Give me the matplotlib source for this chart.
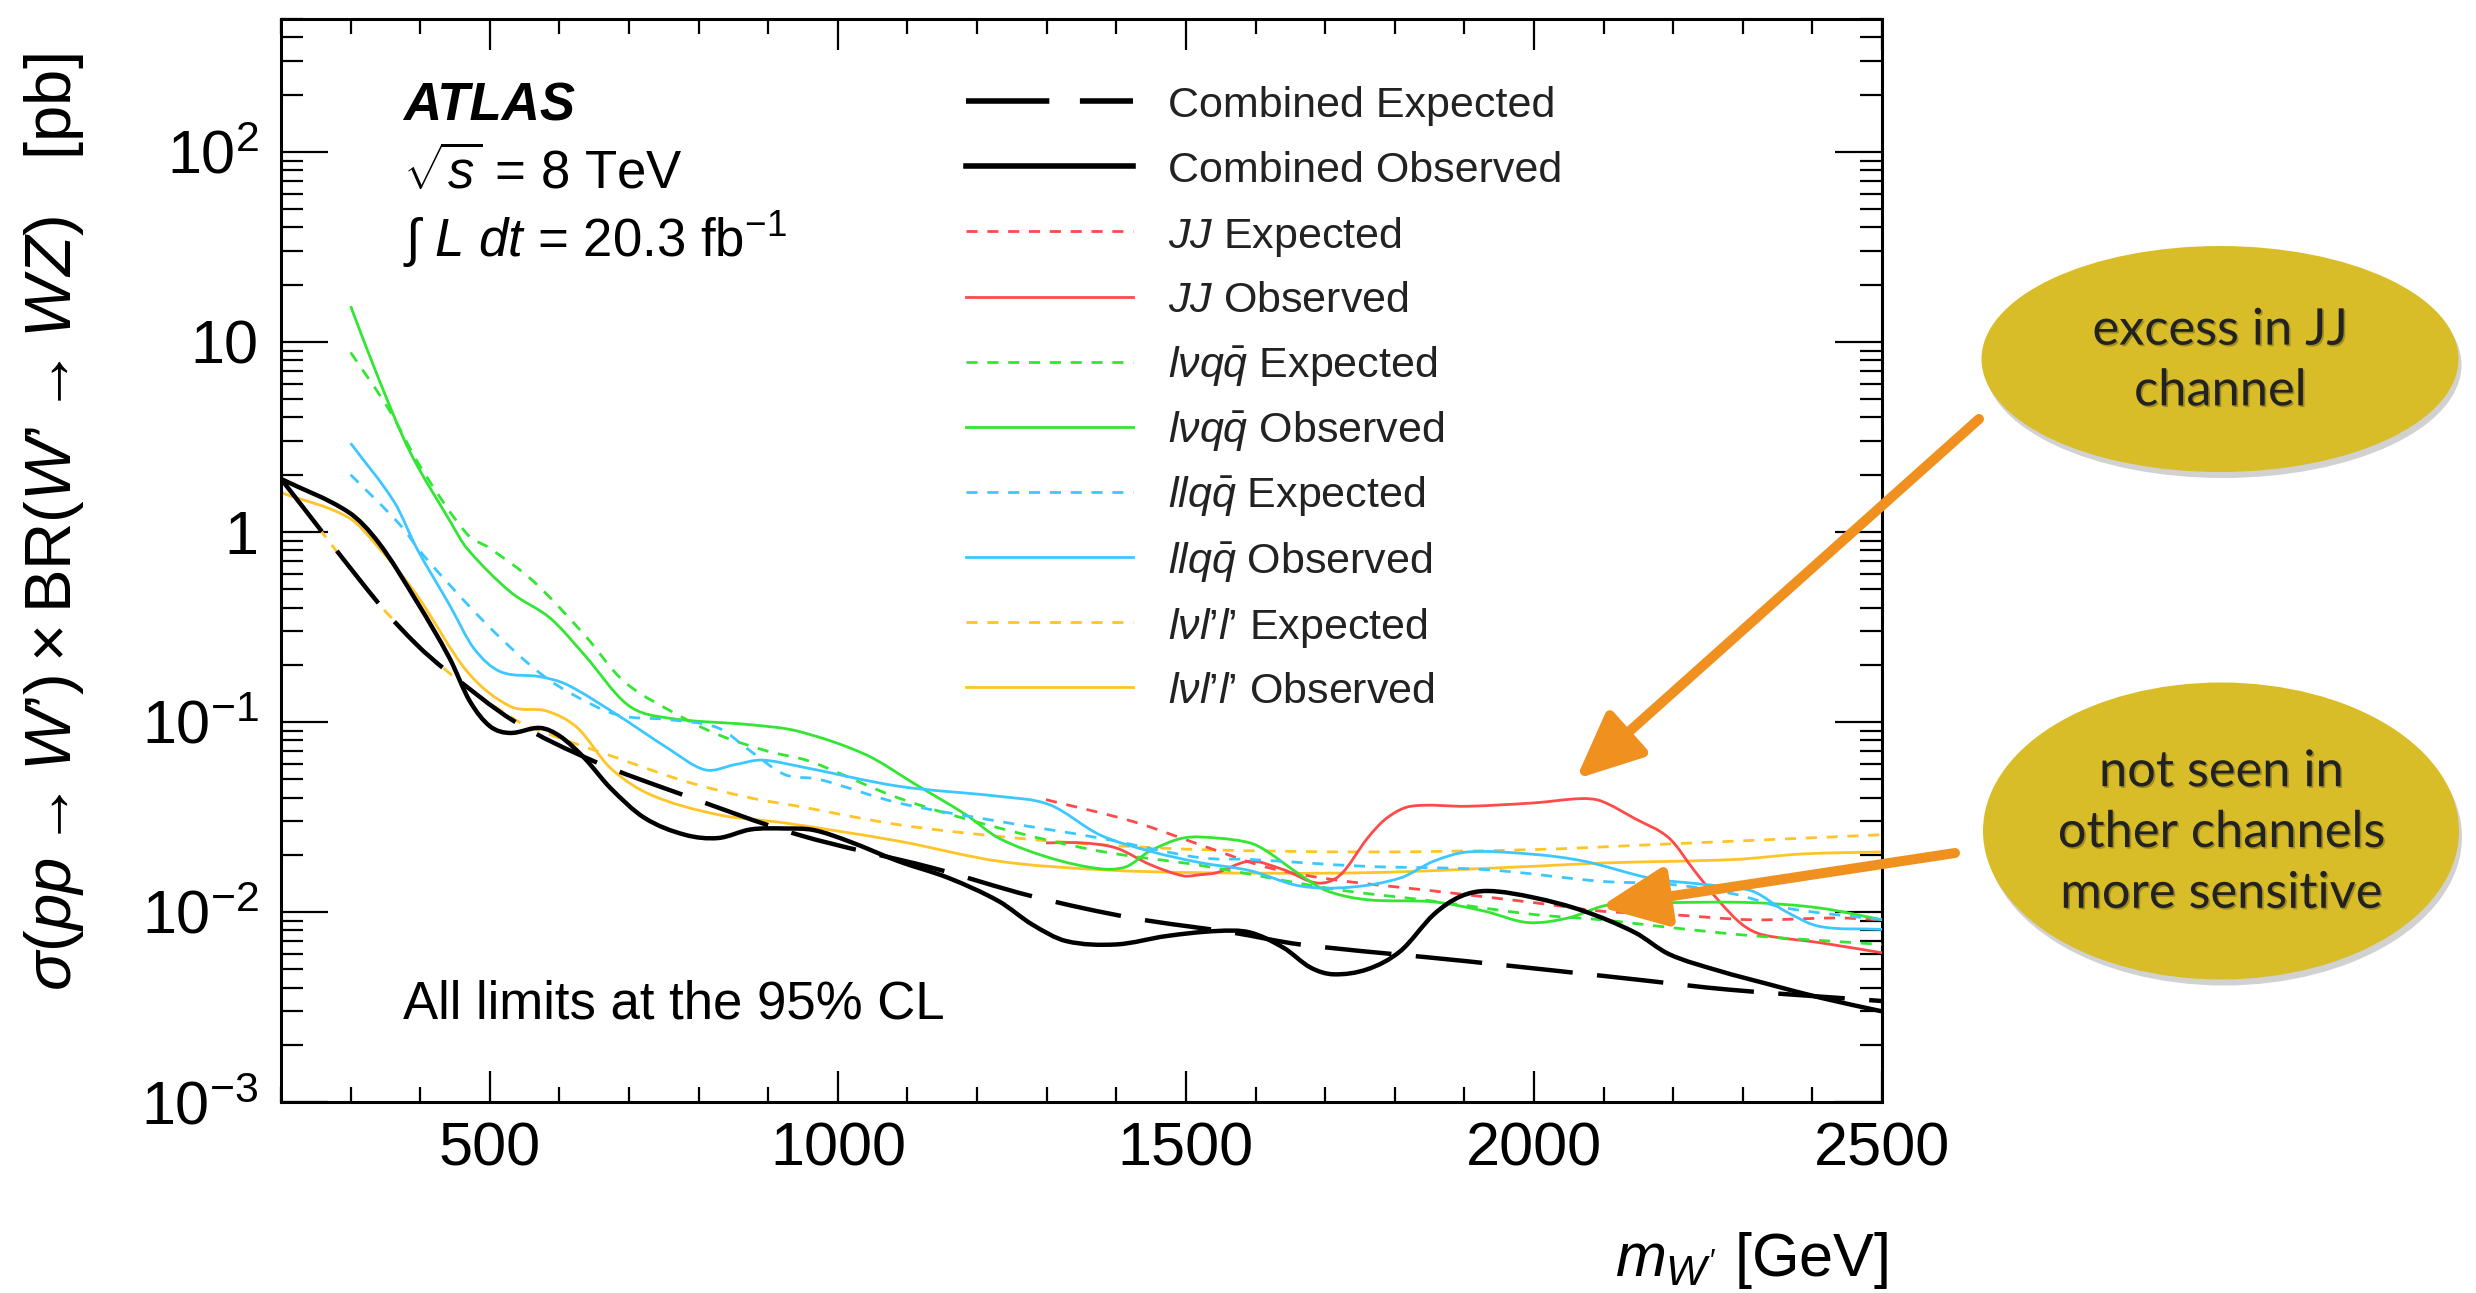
import matplotlib
matplotlib.use('Agg')
import numpy as np
import matplotlib.pyplot as plt
import matplotlib.patheffects as pe
from matplotlib.patches import Ellipse, PathPatch
from matplotlib.path import Path
from matplotlib.ticker import MultipleLocator, LogLocator, NullFormatter

plt.rcParams['font.family'] = ['Liberation Sans', 'DejaVu Sans']
plt.rcParams['mathtext.fontset'] = 'custom'
plt.rcParams['mathtext.rm'] = 'Liberation Sans'
plt.rcParams['mathtext.it'] = 'Liberation Sans:italic'
plt.rcParams['mathtext.bf'] = 'Liberation Sans:bold'

# --- 95% CL limits: W' mass [GeV] -> sigma x BR [pb] ---
comb_obs_m = [200, 297, 341, 395, 442, 471, 500, 529, 572, 601, 636, 673, 722, 780, 828,
              875, 924, 965, 1015, 1087, 1159, 1231, 1279, 1328, 1400, 1472, 1544, 1592,
              1640, 1679, 1712, 1761, 1808, 1856, 1895, 1934, 2000, 2072, 2145, 2194,
              2266, 2338, 2410, 2500]
comb_obs = [1.9, 1.27, 0.87, 0.43, 0.217, 0.129, 0.095, 0.0875, 0.093, 0.084, 0.0645,
            0.045, 0.0313, 0.0255, 0.0245, 0.0272, 0.0275, 0.027, 0.0236, 0.0185, 0.0151,
            0.0114, 0.0086, 0.00703, 0.00675, 0.00747, 0.00794, 0.0078, 0.00649, 0.0051,
            0.0047, 0.0050, 0.00622, 0.0097, 0.0121, 0.0129, 0.0119, 0.0101, 0.0078,
            0.0060, 0.0049, 0.00416, 0.00355, 0.0030]

comb_exp_m = [200, 341, 395, 437, 535, 650, 770, 943, 1135, 1279, 1423, 1568, 1664, 1905,
              2145, 2281, 2500]
comb_exp = [1.9, 0.417, 0.255, 0.187, 0.1008, 0.062, 0.0423, 0.0255, 0.0171, 0.0121,
            0.0093, 0.00778, 0.00675, 0.0055, 0.00442, 0.0039, 0.0034]

jj_obs_m = [1299, 1351, 1400, 1448, 1496, 1520, 1544, 1592, 1640, 1689, 1722, 1761, 1789,
            1823, 1905, 2000, 2068, 2097, 2145, 2194, 2231, 2266, 2299, 2328, 2410, 2500]
jj_obs = [0.0231, 0.0231, 0.0217, 0.0178, 0.0155, 0.0157, 0.0161, 0.0185, 0.0167, 0.0142,
          0.0157, 0.0245, 0.0313, 0.036, 0.036, 0.0375, 0.0395, 0.0383, 0.031, 0.0245,
          0.0164, 0.0114, 0.0086, 0.0076, 0.0069, 0.0061]

jj_exp_m = [1299, 1423, 1520, 1616, 1712, 1856, 2000, 2097, 2194, 2313, 2434, 2500]
jj_exp = [0.039, 0.030, 0.0226, 0.0172, 0.0148, 0.0129, 0.0112, 0.0101, 0.0097, 0.0091,
          0.0093, 0.0091]

lvqq_obs_m = [300, 341, 385, 444, 467, 529, 587, 636, 698, 755, 875, 943, 1040, 1112, 1184,
              1231, 1304, 1376, 1414, 1448, 1496, 1544, 1592, 1616, 1664, 1703, 1761, 1856,
              1929, 1991, 2049, 2097, 2121, 2194, 2313, 2410, 2500]
lvqq_obs = [15.4, 6.3, 2.65, 1.12, 0.82, 0.485, 0.351, 0.225, 0.123, 0.105, 0.0966, 0.0893,
            0.0673, 0.0468, 0.0325, 0.0245, 0.0193, 0.0169, 0.0173, 0.0209, 0.0245, 0.0245,
            0.0231, 0.0209, 0.0157, 0.0129, 0.0116, 0.0113, 0.0101, 0.0088, 0.0093, 0.0107,
            0.011, 0.0112, 0.0112, 0.0105, 0.0091]

lvqq_exp_m = [300, 356, 400, 466, 500, 563, 636, 693, 770, 828, 900, 960, 1087, 1231, 1376,
              1520, 1712, 1856, 2000, 2097, 2194, 2313, 2500]
lvqq_exp = [8.8, 4.35, 2.21, 0.986, 0.82, 0.548, 0.287, 0.163, 0.109, 0.0857, 0.070, 0.062,
            0.0398, 0.0277, 0.0209, 0.0176, 0.0132, 0.0114, 0.0097, 0.0091, 0.0083, 0.0075,
            0.00675]

llqq_obs_m = [300, 363, 395, 442, 477, 515, 572, 611, 683, 755, 809, 852, 890, 943, 1087,
              1231, 1304, 1376, 1448, 1520, 1592, 1664, 1736, 1808, 1856, 1905, 2000, 2072,
              2169, 2241, 2313, 2361, 2410, 2500]
llqq_obs = [2.93, 1.43, 0.82, 0.413, 0.244, 0.184, 0.173, 0.157, 0.109, 0.073, 0.056,
            0.0596, 0.063, 0.0585, 0.0459, 0.0406, 0.0367, 0.0255, 0.0209, 0.0182, 0.0165,
            0.0137, 0.0135, 0.0151, 0.0185, 0.0207, 0.0201, 0.0185, 0.015, 0.014, 0.0129,
            0.0101, 0.0084, 0.0081]

llqq_exp_m = [300, 370, 405, 491, 563, 611, 683, 755, 828, 875, 924, 972, 1087, 1231, 1376,
              1520, 1592, 1756, 1931, 2097, 2194, 2289, 2361, 2500]
llqq_exp = [2.0, 1.1, 0.75, 0.339, 0.192, 0.145, 0.109, 0.103, 0.093, 0.070, 0.0528, 0.050,
            0.0375, 0.030, 0.0245, 0.0193, 0.0189, 0.0174, 0.0167, 0.0145, 0.014, 0.0124,
            0.0105, 0.0091]

lvll_obs_m = [200, 297, 341, 395, 467, 529, 582, 626, 673, 731, 828, 924, 1087, 1231, 1376,
              1520, 1761, 2000, 2097, 2289, 2385, 2500]
lvll_obs = [1.61, 1.19, 0.82, 0.466, 0.185, 0.121, 0.114, 0.093, 0.0573, 0.0414, 0.0325,
            0.0294, 0.0236, 0.0185, 0.0167, 0.0161, 0.0161, 0.0174, 0.0181, 0.0189, 0.0202,
            0.0207]

lvll_exp_m = [200, 341, 437, 535, 587, 683, 780, 875, 943, 1087, 1231, 1376, 1520, 1761,
              2000, 2169, 2289, 2500]
lvll_exp = [1.9, 0.417, 0.187, 0.1035, 0.0857, 0.0646, 0.0488, 0.0398, 0.036, 0.0288,
            0.025, 0.0226, 0.0213, 0.0207, 0.0213, 0.0226, 0.0236, 0.0255]

legend_labels = ['Combined Expected', 'Combined Observed',
                 r'$JJ$ Expected', r'$JJ$ Observed',
                 r'$l\nu q\bar{q}$ Expected', r'$l\nu q\bar{q}$ Observed',
                 r'$llq\bar{q}$ Expected', r'$llq\bar{q}$ Observed',
                 r'$l\nu l$’$l$’ Expected', r'$l\nu l$’$l$’ Observed']

red, green, blue, yellow = '#FF4A4A', '#33E633', '#3CC8FF', '#FFC425'
dash_black = (0, (15, 5.5))
dash_col = (0, (4, 3.5))

# (x, y, colour, linestyle, width, zorder) in legend order
series = [
    (comb_exp_m, comb_exp, 'black', dash_black, 1.6, 6),
    (comb_obs_m, comb_obs, 'black', '-', 1.6, 7),
    (jj_exp_m, jj_exp, red, dash_col, 1.0, 3),
    (jj_obs_m, jj_obs, red, '-', 1.0, 3),
    (lvqq_exp_m, lvqq_exp, green, dash_col, 1.0, 3),
    (lvqq_obs_m, lvqq_obs, green, '-', 1.0, 3),
    (llqq_exp_m, llqq_exp, blue, dash_col, 1.0, 3),
    (llqq_obs_m, llqq_obs, blue, '-', 1.0, 3),
    (lvll_exp_m, lvll_exp, yellow, dash_col, 1.0, 2),
    (lvll_obs_m, lvll_obs, yellow, '-', 1.0, 2),
]


def smooth_curve(xs, ys):
    """Cubic Bezier path through the points (smoothed in log y, like ROOT's 'C' option)."""
    x = np.asarray(xs, float)
    ly = np.log10(np.asarray(ys, float))
    n = len(x)
    slope = np.empty(n)
    slope[0] = (ly[1] - ly[0]) / (x[1] - x[0])
    slope[-1] = (ly[-1] - ly[-2]) / (x[-1] - x[-2])
    slope[1:-1] = (ly[2:] - ly[:-2]) / (x[2:] - x[:-2])
    verts = [(x[0], ly[0])]
    codes = [Path.MOVETO]
    for i in range(n - 1):
        d = (x[i + 1] - x[i]) / 3.0
        verts += [(x[i] + d, ly[i] + d * slope[i]),
                  (x[i + 1] - d, ly[i + 1] - d * slope[i + 1]),
                  (x[i + 1], ly[i + 1])]
        codes += [Path.CURVE4] * 3
    verts = np.array(verts)
    verts[:, 1] = 10 ** verts[:, 1]
    return Path(verts, codes)


fig = plt.figure(figsize=(12.38, 6.465), dpi=200)
ax = fig.add_axes([0.1135, 0.1477, 0.6466, 0.8376])
ax.set_yscale('log')
ax.set_xlim(200, 2500)
ax.set_ylim(1e-3, 500)

for xs, ys, c, ls, lw, z in series:
    ax.add_patch(PathPatch(smooth_curve(xs, ys), fill=False, edgecolor=c, linestyle=ls,
                           linewidth=lw, zorder=z, joinstyle='round'))

ax.xaxis.set_major_locator(MultipleLocator(500))
ax.xaxis.set_minor_locator(MultipleLocator(100))
ax.set_yticks([1e-3, 1e-2, 1e-1, 1, 10, 100])
ax.set_yticklabels([r'$10^{-3}$', r'$10^{-2}$', r'$10^{-1}$', '1', '10', r'$10^{2}$'])
ax.yaxis.set_minor_locator(LogLocator(base=10, subs=range(2, 10), numticks=20))
ax.yaxis.set_minor_formatter(NullFormatter())

ax.tick_params(which='both', direction='in', top=True, right=True, width=0.8,
               labelsize=22)
ax.tick_params(axis='x', which='major', length=11, pad=7)
ax.tick_params(axis='x', which='minor', length=5.5)
ax.tick_params(axis='y', which='major', length=17, pad=8)
ax.tick_params(axis='y', which='minor', length=8)
for sp in ax.spines.values():
    sp.set_linewidth(1.1)

ax.set_ylabel(r'$\sigma(pp \rightarrow W$’$) \times $BR$(W$’$ \rightarrow WZ)$   [pb]',
              fontsize=23.5)
ax.yaxis.set_label_coords(-0.122, 0.535)
ax.set_xlabel(r'$m_{W^{\prime}}$ [GeV]', fontsize=22, ha='right')
ax.xaxis.set_label_coords(1.004, -0.118)

# experiment labels
ax.text(0.076, 0.919, 'ATLAS', transform=ax.transAxes, fontsize=19,
        fontweight='bold', fontstyle='italic', va='center')
ax.text(0.076, 0.857, r'$\sqrt{s}$ = 8 TeV', transform=ax.transAxes, fontsize=19,
        va='center')
ax.text(0.076, 0.796, r'$\int$ $L\ dt$ = 20.3 fb$^{-1}$', transform=ax.transAxes,
        fontsize=19, va='center')
ax.text(0.076, 0.0905, 'All limits at the 95% CL', transform=ax.transAxes,
        fontsize=19, va='center')

# legend drawn row by row
for i, ((xs, ys, c, ls, lw, z), lab) in enumerate(zip(series, legend_labels)):
    y = 0.924 - i * 0.0601
    ax.plot([0.428, 0.532], [y, y], transform=ax.transAxes, color=c, linestyle=ls,
            linewidth=lw * (1.25 if c == 'black' else 1.0), clip_on=False)
    ax.text(0.554, y, lab, transform=ax.transAxes, fontsize=15.5,
            va='center_baseline', color='#222222')

# call-out bubbles and arrows, in pixel coordinates of the figure
ov = fig.add_axes([0, 0, 1, 1], zorder=10)
ov.set_xlim(0, 2476)
ov.set_ylim(1293, 0)
ov.axis('off')
ov.patch.set_visible(False)

bubbles = [((2220, 359), 477, 226, 'excess in JJ\nchannel'),
           ((2221, 831), 476, 297, 'not seen in\nother channels\nmore sensitive')]
for (cx, cy), w, h, txt in bubbles:
    ov.add_patch(Ellipse((cx + 3, cy + 6), w, h, color='#8c8c8c', alpha=0.4, lw=0))
    ov.add_patch(Ellipse((cx, cy), w, h, color='#D9BD28', lw=0))
    ov.text(cx, cy + 2, txt, ha='center', va='center', fontsize=18.2, family='Lato',
            color='#222222', linespacing=1.4,
            path_effects=[pe.withSimplePatchShadow(offset=(0.6, -0.6),
                                                   shadow_rgbFace='black', alpha=0.25)])

arrows = [((1979, 419), (1576, 779)), ((1955, 853), (1600, 907))]
for tail, tip in arrows:
    ov.annotate('', xy=tip, xytext=tail,
                arrowprops=dict(arrowstyle='-|>,head_length=1.0,head_width=0.45',
                                color='#F0901E', lw=3.6, mutation_scale=20,
                                shrinkA=0, shrinkB=0))

fig.savefig('out.png', dpi=200)
